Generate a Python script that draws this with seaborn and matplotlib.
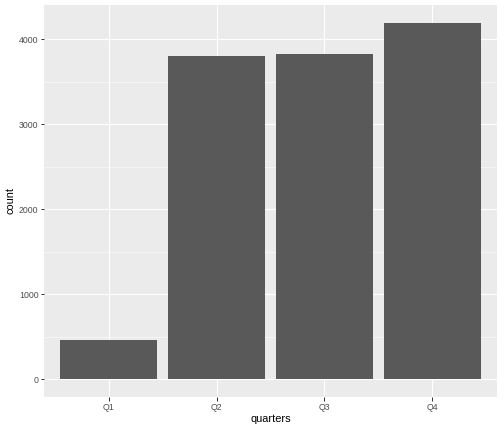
import matplotlib
matplotlib.use("Agg")
import matplotlib.pyplot as plt
import seaborn as sns
import pandas as pd
import numpy as np

quarters = ["Q1", "Q2", "Q3", "Q4"]
counts = [458, 3808, 3832, 4196]

df = pd.DataFrame({"quarters": quarters, "count": counts})

sns.set_style("white")
plt.rcParams['font.family'] = ['Liberation Sans', 'DejaVu Sans']

fig = plt.figure(figsize=(7, 6), dpi=72)
ax = fig.add_axes([44/504, 35/432, (497-44)/504, (397-5)/432])
ax.set_facecolor("#EBEBEB")

sns.barplot(data=df, x="quarters", y="count", color="#595959", width=0.9,
            saturation=1, linewidth=0, edgecolor="none", ax=ax, zorder=3)

ymax = max(counts)
ax.set_ylim(-0.05*ymax, ymax*1.05)
ax.set_xlim(-0.6, 3.6)
ax.set_yticks([0, 1000, 2000, 3000, 4000])
ax.set_yticks([500, 1500, 2500, 3500], minor=True)
ax.grid(True, which="major", color="white", linewidth=1.1, zorder=0)
ax.grid(True, which="minor", axis="y", color="white", linewidth=0.55, zorder=0)
ax.set_axisbelow(True)
for s in ax.spines.values():
    s.set_visible(False)
ax.tick_params(axis="both", which="major", length=3.5, width=1, color="#333333",
               labelcolor="#4D4D4D", labelsize=8.8, left=True, bottom=True, pad=2)
ax.tick_params(axis="y", which="minor", length=0)
ax.set_xlabel("quarters", fontsize=11, color="black", labelpad=3)
ax.set_ylabel("count", fontsize=11, color="black", labelpad=3)

fig.savefig("out.png", dpi=72)
